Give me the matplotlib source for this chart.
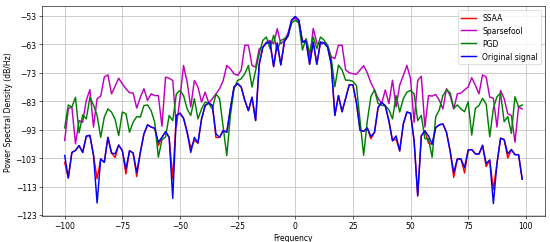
import numpy as np
import matplotlib
matplotlib.use("Agg")
import matplotlib.pyplot as plt

# frequency bins of a 128-point FFT sampled at 200 Hz
freqs = np.fft.fftshift(np.fft.fftfreq(128, d=1 / 200))

original = [
    -102.1, -110.0, -101.0, -100.3, -98.6, -101.0, -95.3, -95.0, -102.0, -118.8,
    -103.3, -104.5, -95.7, -101.2, -101.5, -98.4, -100.4, -106.8, -100.4, -101.2,
    -108.0, -101.0, -94.5, -91.3, -92.1, -92.5, -97.4, -95.7, -93.7, -95.7,
    -117.2, -88.0, -87.2, -89.0, -93.9, -101.0, -95.7, -97.7, -89.2, -84.5,
    -83.6, -84.5, -94.5, -95.7, -93.3, -93.9, -85.7, -78.0, -76.8, -78.0,
    -82.7, -86.3, -81.6, -89.8, -70.0, -64.0, -62.5, -62.2, -70.8, -62.5,
    -70.2, -62.0, -60.0, -54.5, -53.2, -54.5, -62.2, -61.8, -70.0, -62.2,
    -70.0, -62.2, -62.5, -64.0, -70.0, -88.0, -81.0, -86.7, -82.0, -77.2,
    -77.2, -83.6, -93.2, -93.6, -92.4, -95.4, -94.0, -85.2, -83.4, -84.6,
    -89.9, -96.9, -95.2, -100.5, -91.0, -86.8, -87.2, -96.9, -116.3, -95.2,
    -93.4, -95.2, -98.1, -92.3, -91.3, -91.0, -94.0, -100.5, -108.1, -103.3,
    -103.3, -106.3, -100.2, -100.0, -101.5, -101.6, -98.5, -104.9, -103.7, -119.0,
    -104.9, -96.0, -96.5, -101.5, -100.0, -101.8, -101.8, -110.4,
]

ssaa = [
    -104.5, -110.0, -101.0, -100.3, -98.6, -101.0, -95.3, -95.0, -102.0, -110.3,
    -103.3, -104.5, -95.7, -101.2, -102.8, -98.4, -100.4, -108.6, -100.4, -101.2,
    -109.5, -101.0, -94.5, -91.3, -92.1, -92.5, -98.6, -95.7, -93.7, -95.7,
    -110.3, -88.0, -87.2, -89.0, -93.9, -99.5, -96.8, -97.7, -89.2, -84.5,
    -83.6, -84.5, -95.8, -95.7, -93.3, -93.9, -85.7, -78.0, -76.8, -78.0,
    -82.7, -86.3, -81.6, -89.8, -70.0, -64.0, -62.5, -62.2, -70.8, -62.5,
    -70.2, -62.0, -60.0, -54.5, -53.2, -54.5, -62.2, -61.8, -70.0, -62.2,
    -70.0, -62.2, -62.5, -64.0, -70.0, -88.0, -81.0, -86.7, -82.0, -77.2,
    -77.2, -83.6, -93.2, -93.6, -92.4, -96.2, -94.0, -85.2, -83.4, -84.6,
    -89.9, -96.9, -96.3, -100.5, -91.0, -86.8, -87.2, -96.9, -116.3, -95.2,
    -93.4, -97.8, -98.1, -92.3, -91.3, -91.0, -94.0, -100.5, -109.8, -103.3,
    -103.3, -108.2, -100.2, -100.0, -101.5, -101.6, -98.5, -106.0, -103.7, -114.0,
    -104.9, -96.0, -96.5, -103.0, -100.0, -101.8, -101.8, -110.4,
]

sparsefool = [
    -96.8, -85.7, -85.0, -98.0, -89.8, -90.4, -82.7, -78.9, -92.1, -82.1,
    -81.2, -74.5, -73.7, -80.4, -77.7, -74.9, -76.9, -78.6, -80.0, -80.1,
    -85.4, -81.6, -78.6, -82.7, -80.4, -81.0, -81.0, -91.8, -74.5, -74.9,
    -75.7, -92.0, -82.0, -70.4, -76.3, -85.0, -75.7, -78.0, -83.3, -79.8,
    -83.6, -82.1, -80.4, -78.6, -75.7, -70.4, -71.6, -73.3, -73.9, -72.1,
    -63.3, -63.3, -70.4, -71.0, -64.5, -64.0, -62.2, -61.6, -62.8, -57.5,
    -62.8, -61.6, -59.0, -54.5, -53.8, -55.0, -62.0, -61.5, -68.0, -57.4,
    -62.5, -63.0, -62.5, -63.5, -67.4, -68.0, -63.3, -63.3, -72.0, -73.0,
    -73.3, -73.5, -72.0, -70.5, -73.0, -76.5, -79.0, -82.0, -83.8, -79.0,
    -83.8, -75.6, -85.0, -77.3, -74.0, -70.4, -75.0, -90.4, -75.7, -74.2,
    -92.1, -81.0, -81.2, -80.6, -82.7, -85.7, -78.6, -81.0, -85.7, -80.4,
    -80.1, -79.0, -78.0, -74.7, -77.4, -80.4, -73.7, -74.5, -81.6, -81.9,
    -92.1, -79.2, -82.1, -87.4, -88.0, -97.4, -85.0, -85.7,
]

pgd = [
    -92.4, -84.3, -85.1, -81.6, -94.1, -87.8, -89.2, -81.6, -84.3, -88.0,
    -95.7, -88.6, -85.7, -86.8, -89.4, -95.1, -86.8, -87.4, -93.9, -90.4,
    -88.4, -88.6, -84.5, -84.3, -86.3, -90.4, -102.7, -96.5, -95.6, -88.0,
    -89.8, -80.4, -79.2, -81.0, -85.7, -88.0, -82.1, -89.2, -85.7, -83.3,
    -83.8, -85.7, -80.4, -82.1, -92.1, -102.1, -88.0, -78.6, -75.7, -75.1,
    -73.3, -70.4, -78.0, -72.1, -66.3, -61.6, -60.4, -64.5, -59.8, -65.1,
    -61.6, -61.0, -60.0, -55.5, -54.5, -55.5, -65.0, -61.0, -66.0, -60.4,
    -64.5, -60.4, -61.5, -63.3, -68.0, -77.9, -70.3, -72.0, -75.6, -75.6,
    -76.0, -77.5, -90.0, -102.0, -90.0, -81.4, -79.0, -83.8, -84.4, -84.6,
    -86.0, -89.2, -81.0, -86.8, -82.1, -79.8, -79.2, -80.4, -89.8, -88.0,
    -96.2, -96.2, -102.7, -88.5, -86.0, -81.0, -79.0, -80.0, -85.5, -84.3,
    -85.7, -86.7, -83.2, -94.9, -85.5, -84.5, -82.0, -84.0, -95.5, -85.5,
    -81.4, -80.2, -90.2, -88.4, -94.3, -81.4, -85.0, -84.3,
]

lw = 1.9

fig = plt.figure(figsize=(10, 4.418), dpi=55)
plt.plot(freqs, ssaa, color='r', lw=lw, label='SSAA')
plt.plot(freqs, sparsefool, color='m', lw=lw, label='Sparsefool')
plt.plot(freqs, pgd, color='g', lw=lw, label='PGD')
plt.plot(freqs, original, color='b', lw=lw, label='Original signal')

plt.yticks(np.arange(-53, -124, -10))
plt.ylim(-123.2, -49.6)
plt.xlabel('Frequency')
plt.ylabel('Power Spectral Density (dB/Hz)')
plt.grid(True)
plt.legend(loc='upper right')
plt.subplots_adjust(left=0.076, right=0.991, top=0.97, bottom=0.109)
plt.savefig('out.png', dpi=55)
